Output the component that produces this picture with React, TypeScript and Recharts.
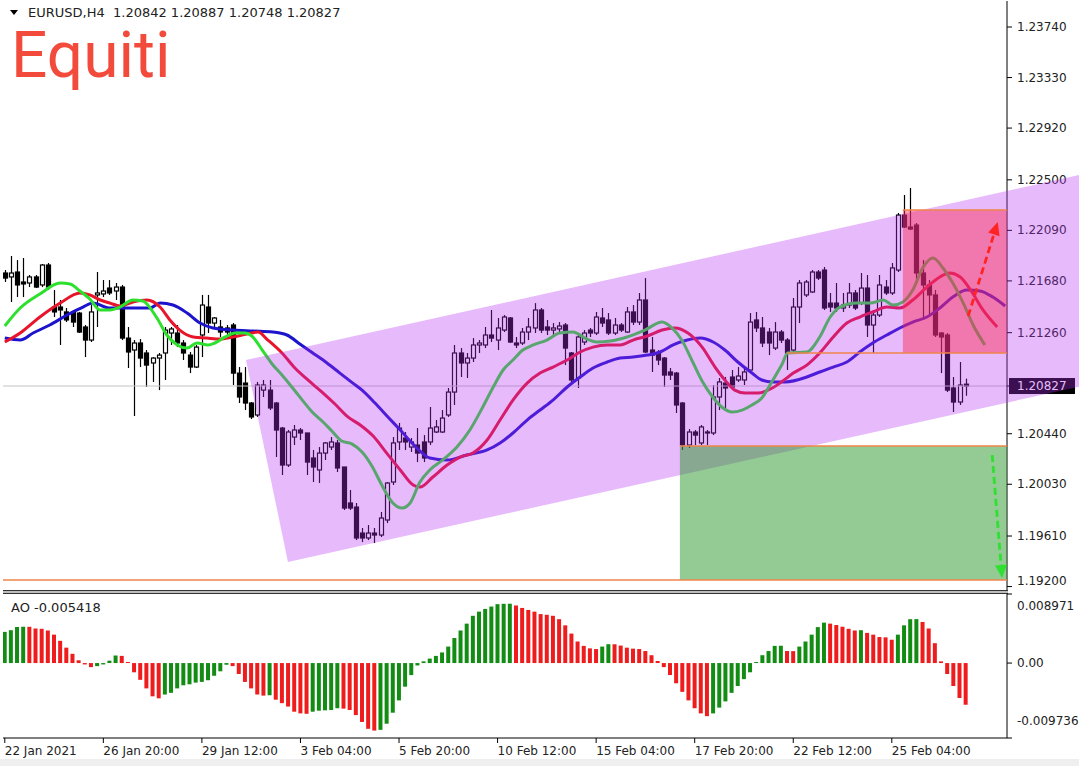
import React from 'react';
import { ComposedChart, Bar, Line, Area, XAxis, YAxis, ReferenceLine, ReferenceArea, Cell } from 'recharts';

// ---------- data (EURUSD H4, bar index 0..156) ----------
const OPENS = [1.21744,1.21712,1.21752,1.21671,1.21663,1.21712,1.21647,1.21809,1.21468,1.21468,1.21428,1.21428,1.21419,1.21306,1.21200,1.21566,1.21574,1.21622,1.21598,1.21630,1.21216,1.21119,1.21176,1.21095,1.21014,1.21054,1.21095,1.21257,1.21257,1.21176,1.21078,1.20981,1.21241,1.21468,1.21338,1.21306,1.21298,1.21322,1.20932,1.20851,1.20689,1.20592,1.20794,1.20794,1.20689,1.20486,1.20186,1.20413,1.20470,1.20446,1.20243,1.20146,1.20283,1.20332,1.20365,1.20170,1.19878,1.19845,1.19634,1.19594,1.19634,1.19618,1.19740,1.20048,1.20373,1.20405,1.20332,1.20348,1.20373,1.20373,1.20454,1.20454,1.20592,1.20778,1.21095,1.21014,1.21054,1.21160,1.21160,1.21241,1.21200,1.21281,1.21379,1.21176,1.21176,1.21265,1.21298,1.21444,1.21306,1.21281,1.21290,1.21322,1.21095,1.20892,1.21184,1.21281,1.21257,1.21379,1.21363,1.21257,1.21322,1.21265,1.21428,1.21346,1.21525,1.21119,1.21095,1.21054,1.20941,1.20932,1.20689,1.20348,1.20454,1.20365,1.20454,1.20446,1.20738,1.20851,1.20900,1.20876,1.20876,1.20957,1.21363,1.21298,1.21265,1.21135,1.21265,1.21200,1.21119,1.21468,1.21566,1.21590,1.21752,1.21768,1.21500,1.21500,1.21460,1.21484,1.21582,1.21500,1.21622,1.21322,1.21403,1.21630,1.21582,1.21768,1.22214,1.22117,1.22133,1.21744,1.21647,1.21566,1.21257,1.21241,1.20811,1.20697,1.20842];
const HIGHS = [1.21768,1.21882,1.21849,1.21866,1.21728,1.21728,1.21817,1.21825,1.21606,1.21525,1.21460,1.21444,1.21428,1.21322,1.21484,1.21752,1.21687,1.21687,1.21663,1.21647,1.21306,1.21200,1.21208,1.21119,1.21062,1.21095,1.21306,1.21306,1.21322,1.21200,1.21103,1.21160,1.21566,1.21566,1.21387,1.21363,1.21322,1.21338,1.20981,1.20981,1.20697,1.20860,1.20876,1.20876,1.20697,1.20495,1.20470,1.20511,1.20486,1.20446,1.20308,1.20332,1.20373,1.20413,1.20389,1.20170,1.19983,1.19878,1.19675,1.19699,1.19675,1.19805,1.20048,1.20413,1.20527,1.20454,1.20405,1.20486,1.20429,1.20657,1.20551,1.20632,1.20811,1.21160,1.21135,1.21095,1.21216,1.21200,1.21306,1.21444,1.21379,1.21403,1.21387,1.21225,1.21298,1.21379,1.21500,1.21460,1.21363,1.21338,1.21346,1.21338,1.21103,1.21241,1.21281,1.21298,1.21428,1.21460,1.21419,1.21379,1.21338,1.21468,1.21484,1.21582,1.21703,1.21225,1.21119,1.21062,1.20973,1.20941,1.20697,1.20478,1.20470,1.20511,1.20470,1.20835,1.20892,1.20900,1.20957,1.20981,1.20973,1.21419,1.21428,1.21387,1.21298,1.21346,1.21281,1.21216,1.21541,1.21687,1.21687,1.21768,1.21768,1.21793,1.21582,1.21663,1.21582,1.21663,1.21606,1.21744,1.21728,1.21444,1.21728,1.21687,1.21825,1.22231,1.22377,1.22434,1.22150,1.21849,1.21687,1.21606,1.21265,1.21257,1.20900,1.21022,1.20887];
const LOWS = [1.21671,1.21509,1.21549,1.21549,1.21630,1.21622,1.21630,1.21606,1.21387,1.21160,1.21346,1.21306,1.21257,1.21062,1.21184,1.21306,1.21549,1.21566,1.21525,1.21200,1.20973,1.20584,1.20981,1.20819,1.20860,1.20794,1.20876,1.21160,1.21143,1.21038,1.20932,1.20973,1.21062,1.21257,1.21298,1.21225,1.21241,1.20835,1.20689,1.20632,1.20559,1.20576,1.20738,1.20632,1.20251,1.20105,1.20170,1.20348,1.20389,1.20105,1.20048,1.20040,1.20227,1.20308,1.20129,1.19821,1.19821,1.19577,1.19561,1.19577,1.19553,1.19602,1.19715,1.20024,1.20308,1.20308,1.20292,1.20210,1.20210,1.20348,1.20446,1.20446,1.20576,1.20673,1.20900,1.20892,1.21022,1.21095,1.21135,1.21184,1.21119,1.21265,1.21176,1.21135,1.21160,1.21200,1.21257,1.21257,1.21241,1.21225,1.21265,1.20997,1.20851,1.20811,1.21160,1.21225,1.21241,1.21306,1.21241,1.21241,1.21265,1.21257,1.21322,1.21322,1.21095,1.20941,1.20997,1.20819,1.20876,1.20608,1.20308,1.20324,1.20348,1.20348,1.20348,1.20429,1.20632,1.20649,1.20811,1.20860,1.20835,1.20932,1.21265,1.21143,1.21078,1.21119,1.21176,1.20957,1.21095,1.21338,1.21549,1.21582,1.21687,1.21444,1.21428,1.21428,1.21428,1.21460,1.21444,1.21484,1.21225,1.21095,1.21387,1.21566,1.21566,1.21752,1.22109,1.22093,1.21687,1.21363,1.21387,1.21225,1.20932,1.20778,1.20616,1.20673,1.20748];
const CLOSES = [1.21703,1.21744,1.21647,1.21655,1.21712,1.21630,1.21809,1.21630,1.21428,1.21444,1.21363,1.21346,1.21265,1.21200,1.21428,1.21582,1.21598,1.21582,1.21630,1.21216,1.21103,1.21176,1.21054,1.20997,1.21054,1.21078,1.21281,1.21290,1.21176,1.21095,1.20981,1.21143,1.21484,1.21338,1.21379,1.21265,1.21265,1.20932,1.20738,1.20689,1.20576,1.20835,1.20835,1.20649,1.20470,1.20186,1.20454,1.20470,1.20446,1.20210,1.20170,1.20283,1.20365,1.20373,1.20162,1.19837,1.19837,1.19594,1.19594,1.19634,1.19618,1.19756,1.20040,1.20365,1.20486,1.20373,1.20373,1.20283,1.20243,1.20486,1.20495,1.20567,1.20778,1.21095,1.21014,1.21054,1.21160,1.21176,1.21241,1.21216,1.21298,1.21387,1.21184,1.21160,1.21265,1.21306,1.21444,1.21281,1.21281,1.21298,1.21314,1.21135,1.20876,1.21225,1.21257,1.21257,1.21387,1.21338,1.21257,1.21322,1.21281,1.21428,1.21346,1.21525,1.21103,1.21078,1.21038,1.20916,1.20916,1.20673,1.20348,1.20454,1.20429,1.20495,1.20446,1.20738,1.20860,1.20811,1.20819,1.20908,1.20941,1.21346,1.21298,1.21176,1.21176,1.21265,1.21200,1.21095,1.21468,1.21663,1.21671,1.21752,1.21703,1.21460,1.21468,1.21460,1.21484,1.21582,1.21460,1.21622,1.21322,1.21403,1.21647,1.21582,1.21785,1.22214,1.22117,1.22101,1.21744,1.21647,1.21566,1.21241,1.21225,1.20794,1.20697,1.20835,1.20827];
const AO_VALUES = [0.00405,0.00427,0.00467,0.00472,0.00471,0.00449,0.00445,0.00423,0.00369,0.00289,0.00200,0.00120,0.00036,-0.00018,-0.00053,-0.00040,-0.00018,0.00031,0.00098,0.00093,0.00013,-0.00120,-0.00218,-0.00329,-0.00432,-0.00458,-0.00409,-0.00387,-0.00329,-0.00289,-0.00276,-0.00254,-0.00245,-0.00223,-0.00165,-0.00107,-0.00022,-0.00040,-0.00142,-0.00245,-0.00329,-0.00409,-0.00423,-0.00418,-0.00476,-0.00521,-0.00565,-0.00632,-0.00654,-0.00659,-0.00632,-0.00619,-0.00614,-0.00610,-0.00587,-0.00592,-0.00610,-0.00676,-0.00765,-0.00854,-0.00877,-0.00868,-0.00788,-0.00645,-0.00485,-0.00307,-0.00156,-0.00031,0.00022,0.00058,0.00093,0.00138,0.00214,0.00325,0.00423,0.00512,0.00614,0.00668,0.00703,0.00734,0.00765,0.00770,0.00771,0.00748,0.00716,0.00690,0.00668,0.00636,0.00627,0.00614,0.00570,0.00490,0.00383,0.00280,0.00223,0.00191,0.00182,0.00214,0.00245,0.00244,0.00227,0.00200,0.00187,0.00182,0.00156,0.00102,0.00027,-0.00053,-0.00156,-0.00263,-0.00374,-0.00485,-0.00587,-0.00654,-0.00690,-0.00654,-0.00579,-0.00498,-0.00387,-0.00298,-0.00209,-0.00120,0.00013,0.00102,0.00156,0.00223,0.00225,0.00156,0.00155,0.00214,0.00280,0.00369,0.00467,0.00525,0.00512,0.00494,0.00472,0.00445,0.00423,0.00427,0.00392,0.00369,0.00338,0.00334,0.00303,0.00369,0.00490,0.00570,0.00571,0.00534,0.00449,0.00258,0.00022,-0.00142,-0.00298,-0.00454,-0.005418];

// Alligator lines: [bar index, price]
const LIPS_GREEN = [[0,1.21314],[2.5,1.21460],[5.7,1.21574],[9.0,1.21663],[10.6,1.21655],[12.2,1.21598],[13.8,1.21533],[15.5,1.21444],[17.1,1.21444],[18.7,1.21468],[20.8,1.21525],[22.4,1.21517],[24.7,1.21379],[26.3,1.21241],[28.0,1.21160],[29.6,1.21135],[31.2,1.21176],[33.0,1.21160],[34.1,1.21176],[35.8,1.21225],[37.4,1.21257],[39.0,1.21257],[40.1,1.21233],[41.8,1.21119],[43.4,1.21006],[45.0,1.20916],[46.6,1.20819],[48.3,1.20713],[49.9,1.20616],[51.5,1.20543],[53.1,1.20462],[54.7,1.20381],[56.4,1.20356],[58.0,1.20292],[59.6,1.20178],[61.2,1.20024],[63.0,1.19878],[64.5,1.19837],[65.8,1.19878],[67.4,1.20048],[69.0,1.20146],[71.1,1.20227],[73.4,1.20332],[75.5,1.20470],[77.6,1.20657],[79.3,1.20819],[80.9,1.20957],[82.5,1.21038],[84.1,1.21119],[85.8,1.21160],[88.0,1.21200],[90.1,1.21257],[92.2,1.21265],[94.5,1.21208],[96.1,1.21184],[98.3,1.21192],[101.0,1.21225],[103.9,1.21281],[106.7,1.21346],[108.3,1.21298],[109.9,1.21200],[111.6,1.21030],[113.2,1.20868],[114.8,1.20746],[116.4,1.20657],[118.1,1.20616],[119.7,1.20632],[121.3,1.20673],[122.9,1.20730],[124.6,1.20868],[126.2,1.21006],[127.1,1.21095],[130.2,1.21103],[132.3,1.21225],[134.0,1.21387],[135.6,1.21468],[138.3,1.21500],[140.5,1.21500],[142.6,1.21525],[144.2,1.21484],[145.8,1.21509],[147.4,1.21606],[149.1,1.21793],[150.7,1.21866],[152.3,1.21785],[153.9,1.21663],[155.6,1.21500],[157.2,1.21322],[159.1,1.21160]];
const TEETH_RED = [[0,1.21184],[2.5,1.21257],[5.7,1.21387],[9.0,1.21500],[12.2,1.21582],[13.8,1.21566],[15.5,1.21525],[17.1,1.21500],[18.7,1.21476],[20.8,1.21509],[23.1,1.21525],[25.2,1.21468],[26.8,1.21363],[28.4,1.21281],[30.6,1.21225],[32.8,1.21216],[34.9,1.21208],[37.0,1.21225],[39.3,1.21249],[41.1,1.21265],[42.7,1.21200],[45.0,1.21095],[47.1,1.20973],[49.2,1.20876],[51.5,1.20778],[53.6,1.20681],[55.7,1.20576],[57.7,1.20511],[59.8,1.20421],[62.0,1.20283],[64.2,1.20146],[66.3,1.20024],[67.4,1.20007],[69.5,1.20089],[71.8,1.20186],[73.9,1.20251],[76.0,1.20283],[78.3,1.20389],[80.4,1.20551],[82.5,1.20713],[84.8,1.20851],[86.9,1.20932],[89.0,1.20981],[91.3,1.21038],[93.4,1.21103],[95.5,1.21143],[97.8,1.21160],[99.9,1.21160],[102.0,1.21200],[104.3,1.21233],[106.7,1.21281],[108.8,1.21298],[110.9,1.21257],[113.2,1.21143],[115.3,1.20981],[116.9,1.20876],[118.5,1.20794],[120.2,1.20770],[122.3,1.20770],[124.6,1.20811],[126.3,1.20868],[128.0,1.20932],[130.2,1.20997],[132.3,1.21095],[134.5,1.21225],[136.7,1.21338],[138.8,1.21387],[140.9,1.21428],[143.2,1.21468],[145.3,1.21460],[147.4,1.21525],[149.7,1.21630],[151.8,1.21712],[153.4,1.21744],[155.1,1.21712],[156.7,1.21614],[158.8,1.21444],[161.1,1.21306]];
const JAW_BLUE = [[0,1.21216],[2.5,1.21200],[4.6,1.21257],[7.3,1.21322],[10.1,1.21403],[12.7,1.21468],[14.3,1.21500],[17.1,1.21460],[19.8,1.21460],[23.6,1.21460],[25.2,1.21500],[27.3,1.21484],[29.6,1.21419],[31.7,1.21338],[33.8,1.21298],[37.1,1.21281],[40.3,1.21273],[43.5,1.21265],[45.8,1.21241],[47.9,1.21168],[50.0,1.21095],[52.3,1.21014],[54.4,1.20932],[56.5,1.20851],[58.0,1.20794],[60.1,1.20689],[62.2,1.20576],[64.2,1.20470],[66.9,1.20324],[69.0,1.20243],[71.8,1.20227],[75.0,1.20267],[78.3,1.20308],[80.4,1.20365],[82.5,1.20446],[84.8,1.20551],[86.9,1.20632],[89.0,1.20713],[91.3,1.20819],[93.4,1.20900],[95.5,1.20973],[97.8,1.21022],[99.9,1.21054],[102.0,1.21062],[104.3,1.21078],[106.4,1.21103],[108.5,1.21160],[110.8,1.21200],[112.9,1.21216],[115.0,1.21184],[116.9,1.21119],[119.0,1.21022],[121.3,1.20932],[122.9,1.20876],[124.6,1.20860],[126.7,1.20860],[130.2,1.20900],[132.3,1.20941],[134.5,1.20981],[136.7,1.21022],[138.8,1.21103],[140.9,1.21176],[143.2,1.21241],[145.3,1.21298],[147.4,1.21346],[149.7,1.21387],[151.8,1.21460],[153.9,1.21549],[156.2,1.21606],[158.3,1.21598],[160.4,1.21549],[162.4,1.21476]];

const PRICE_TICKS = [1.192, 1.1961, 1.2003, 1.2044, 1.20827, 1.2126, 1.2168, 1.2209, 1.225, 1.2292, 1.2333, 1.2374];
const LAST_PRICE = 1.20827;
const TIME_TICKS = [0, 16, 32, 48, 64, 80, 96, 112, 128, 144];
const TIME_LABELS = ['22 Jan 2021', '26 Jan 20:00', '29 Jan 12:00', '3 Feb 04:00', '5 Feb 20:00', '10 Feb 12:00', '15 Feb 04:00', '17 Feb 20:00', '22 Feb 12:00', '25 Feb 04:00'];
const AO_TICKS = [-0.009736, 0, 0.008971];
const AO_LAST = -0.005418;

// channel: [bar index, lower price, upper price]
const CHANNEL = [[39.16, 1.21038, 1.21038], [45.97, 1.19399, 1.21113], [174.39, 1.20822, 1.22539]];
// zones: [x1, x2, lowPrice, highPrice]
const SELL_ZONE = [145.8, 162.7, 1.21095, 1.22255];
const BUY_ZONE = [109.6, 162.7, 1.19253, 1.2034];
// horizontal levels: [fromIndex, toIndex, price]
const LEVELS = [[145.8, 162.7, 1.22255], [127.0, 162.7, 1.21095], [109.6, 162.7, 1.2034], [-0.29, 162.7, 1.19253]];
// arrows: [fromIndex, fromPrice, toIndex, toPrice]
const UP_ARROW = [156.4, 1.21395, 161.2, 1.22158];
const DOWN_ARROW = [160.3, 1.20267, 161.9, 1.19269];

const X_MAIN: [number, number] = [-0.29, 162.7];
const X_OVER: [number, number] = [-0.29, 174.39];
const Y_DOMAIN: [number, number] = [1.19172, 1.23951];
const AO_DOMAIN: [number, number] = [-0.009736, 0.008971];

const FONT = '"DejaVu Sans", Verdana, sans-serif';

const candles = OPENS.map((o, i) => ({ i, o, h: HIGHS[i], l: LOWS[i], c: CLOSES[i], range: [LOWS[i], HIGHS[i]] }));
const aoData = AO_VALUES.map((v, i) => ({ i, ao: v, up: i === 0 || v >= AO_VALUES[i - 1] }));
const toLine = (arr: number[][]) => arr.map(([i, v]) => ({ i, v }));
const channelData = CHANNEL.map(([i, lo, hi]) => ({ i, band: [lo, hi] }));

const Candle = (props: any) => {
  const { x, y, width, height, payload } = props;
  if (!payload || x == null || y == null) return null;
  const { o, h, l, c } = payload;
  const top = Math.min(y, y + height);
  const full = Math.abs(height);
  const py = (v: number) => top + ((h - v) / (h - l)) * full;
  const cx = Math.round(x + width / 2) + 0.5;
  const bTop = py(Math.max(o, c));
  const bBot = py(Math.min(o, c));
  const bull = c >= o;
  return (
    <g>
      <line x1={cx} x2={cx} y1={top} y2={top + full} stroke="#000" strokeWidth={1.2} />
      <rect x={cx - 2} y={bTop} width={4} height={Math.max(bBot - bTop, 1)} fill={bull ? '#fff' : '#000'} stroke="#000" strokeWidth={1.2} />
    </g>
  );
};

const PriceTick = (props: any) => {
  const { x, y, payload } = props;
  const v = payload.value;
  if (Math.abs(v - LAST_PRICE) < 1e-9) {
    return (
      <g>
        <rect x={x - 8} y={y - 8} width={66} height={16} fill="#000" />
        <text x={x} y={y} dominantBaseline="central" fill="#fff" fontSize={12} fontFamily={FONT}>{v.toFixed(5)}</text>
      </g>
    );
  }
  const yy = v === PRICE_TICKS[0] ? y - 6 : y;
  return <text x={x} y={yy} dominantBaseline="central" fill="#222" fontSize={12} fontFamily={FONT}>{v.toFixed(5)}</text>;
};

const AoTick = (props: any) => {
  const { x, y, payload } = props;
  const v = payload.value;
  let yy = y;
  if (v === AO_DOMAIN[1]) yy = y + 12;
  if (v === AO_DOMAIN[0]) yy = y - 17;
  return <text x={x} y={yy} dominantBaseline="central" fill="#222" fontSize={12} fontFamily={FONT}>{v === 0 ? '0.00' : v.toFixed(6)}</text>;
};

const TimeTick = (props: any) => {
  const { x, y, payload } = props;
  const idx = TIME_TICKS.indexOf(payload.value);
  return <text x={x} y={y} dy="0.71em" textAnchor="start" fill="#222" fontSize={12} fontFamily={FONT}>{TIME_LABELS[idx]}</text>;
};

const arrowShape = (color: string) => (p: any) => {
  const { x1, y1, x2, y2 } = p;
  const ang = Math.atan2(y2 - y1, x2 - x1);
  const len = 13, half = 6;
  const bx = x2 - len * Math.cos(ang), by = y2 - len * Math.sin(ang);
  const nx = -Math.sin(ang) * half, ny = Math.cos(ang) * half;
  return (
    <g>
      <line x1={x1} y1={y1} x2={bx} y2={by} stroke={color} strokeWidth={2.8} strokeDasharray="7 4" />
      <polygon points={`${x2},${y2} ${bx + nx},${by + ny} ${bx - nx},${by - ny}`} fill={color} />
    </g>
  );
};

const abs = (left: number, top: number): React.CSSProperties => ({ position: 'absolute', left, top });

export default function App() {
  return (
    <div style={{ position: 'absolute', left: 0, top: 0, width: 1079, height: 766, background: '#fff', overflow: 'hidden' }}>
      {/* main price window */}
      <div style={abs(0, 0)}>
        <ComposedChart width={1079} height={592} data={candles} margin={{ top: 1, right: 0, bottom: 2, left: 3 }}>
          <XAxis xAxisId="b" dataKey="i" type="number" domain={X_MAIN} allowDataOverflow tick={false} tickLine={false} axisLine={false} height={0} />
          <YAxis yAxisId="p" orientation="right" type="number" domain={Y_DOMAIN} allowDataOverflow ticks={PRICE_TICKS} interval={0}
            tick={<PriceTick />} tickSize={5} tickMargin={5} tickLine={{ stroke: '#000' }} axisLine={{ stroke: '#000' }} width={72} />
          <YAxis yAxisId="l" orientation="left" type="number" domain={Y_DOMAIN} allowDataOverflow width={0} tick={false} tickLine={false} axisLine={{ stroke: '#000' }} />
          <ReferenceLine xAxisId="b" yAxisId="p" y={LAST_PRICE} stroke="#c4c4c4" strokeWidth={1} />
          <Bar xAxisId="b" yAxisId="p" dataKey="range" barSize={6} shape={Candle} isAnimationActive={false} />
          <Line xAxisId="b" yAxisId="p" data={toLine(JAW_BLUE)} dataKey="v" type="monotone" stroke="#1c14cc" strokeWidth={3} dot={false} isAnimationActive={false} />
          <Line xAxisId="b" yAxisId="p" data={toLine(TEETH_RED)} dataKey="v" type="monotone" stroke="#e8142a" strokeWidth={3} dot={false} isAnimationActive={false} />
          <Line xAxisId="b" yAxisId="p" data={toLine(LIPS_GREEN)} dataKey="v" type="monotone" stroke="#2ee02e" strokeWidth={3} dot={false} isAnimationActive={false} />
        </ComposedChart>
      </div>

      {/* drawn objects overlay */}
      <div style={{ ...abs(0, 0), pointerEvents: 'none' }}>
        <ComposedChart width={1079} height={592} data={channelData} margin={{ top: 1, right: 0, bottom: 2, left: 3 }}>
          <XAxis dataKey="i" type="number" domain={X_OVER} allowDataOverflow hide />
          <YAxis type="number" domain={Y_DOMAIN} allowDataOverflow hide />
          <Area dataKey="band" type="linear" fill="#b22ef2" fillOpacity={0.33} stroke="none" isAnimationActive={false} />
          <ReferenceArea x1={SELL_ZONE[0]} x2={SELL_ZONE[1]} y1={SELL_ZONE[2]} y2={SELL_ZONE[3]} fill="#ff2850" fillOpacity={0.45} stroke="none" />
          <ReferenceArea x1={BUY_ZONE[0]} x2={BUY_ZONE[1]} y1={BUY_ZONE[2]} y2={BUY_ZONE[3]} fill="#2a962a" fillOpacity={0.5} stroke="none" />
          {LEVELS.map(([a, b, p], k) => (
            <ReferenceLine key={k} segment={[{ x: a, y: p }, { x: b, y: p }]} stroke="#f0844a" strokeWidth={1.6} ifOverflow="visible" />
          ))}
          <ReferenceLine segment={[{ x: UP_ARROW[0], y: UP_ARROW[1] }, { x: UP_ARROW[2], y: UP_ARROW[3] }]} shape={arrowShape('#ff2424')} ifOverflow="visible" />
          <ReferenceLine segment={[{ x: DOWN_ARROW[0], y: DOWN_ARROW[1] }, { x: DOWN_ARROW[2], y: DOWN_ARROW[3] }]} shape={arrowShape('#30e030')} ifOverflow="visible" />
        </ComposedChart>
      </div>

      {/* window separator */}
      <div style={{ position: 'absolute', left: 3, top: 590, width: 1005, height: 2, borderTop: '1px solid #333', borderBottom: '1px solid #333', background: '#bdbdbd' }} />

      {/* AO window */}
      <div style={abs(0, 590)}>
        <ComposedChart width={1079} height={176} data={aoData} margin={{ top: 4, right: 0, bottom: 0, left: 3 }}>
          <XAxis xAxisId="b" dataKey="i" type="number" domain={X_MAIN} allowDataOverflow ticks={TIME_TICKS} interval={0}
            tick={<TimeTick />} tickSize={5} tickMargin={3} tickLine={{ stroke: '#000' }} axisLine={{ stroke: '#000' }} height={28} />
          <YAxis yAxisId="a" orientation="right" type="number" domain={AO_DOMAIN} allowDataOverflow ticks={AO_TICKS} interval={0}
            tick={<AoTick />} tickSize={5} tickMargin={5} tickLine={{ stroke: '#000' }} axisLine={{ stroke: '#000' }} width={72} />
          <YAxis yAxisId="l" orientation="left" type="number" domain={AO_DOMAIN} allowDataOverflow width={0} tick={false} tickLine={false} axisLine={{ stroke: '#000' }} />
          <Bar xAxisId="b" yAxisId="a" dataKey="ao" barSize={4} isAnimationActive={false}>
            {aoData.map((d) => (
              <Cell key={d.i} fill={d.up ? '#138c13' : '#ee1c1c'} />
            ))}
          </Bar>
        </ComposedChart>
      </div>

      {/* texts */}
      <svg width={1079} height={766} style={{ position: 'absolute', left: 0, top: 0, pointerEvents: 'none' }}>
        <polygon points="10,10 18,10 14,15" fill="#000" />
        <text x={28} y={12} dominantBaseline="central" fontSize={13} fontFamily={FONT} fill="#222" style={{ whiteSpace: 'pre' }} xmlSpace="preserve">
          {'EURUSD,H4  1.20842 1.20887 1.20748 1.20827'}
        </text>
        <text x={11} y={77} fontSize={64} fontFamily="Roboto, sans-serif" fill="#f24b3c">Equiti</text>
        <text x={11} y={607} dominantBaseline="central" fontSize={13} fontFamily={FONT} fill="#222">{`AO ${AO_LAST.toFixed(6)}`}</text>
      </svg>
      <div style={{ position: 'absolute', left: 0, top: 759, width: 1079, height: 7, background: '#efefef' }} />
    </div>
  );
}
